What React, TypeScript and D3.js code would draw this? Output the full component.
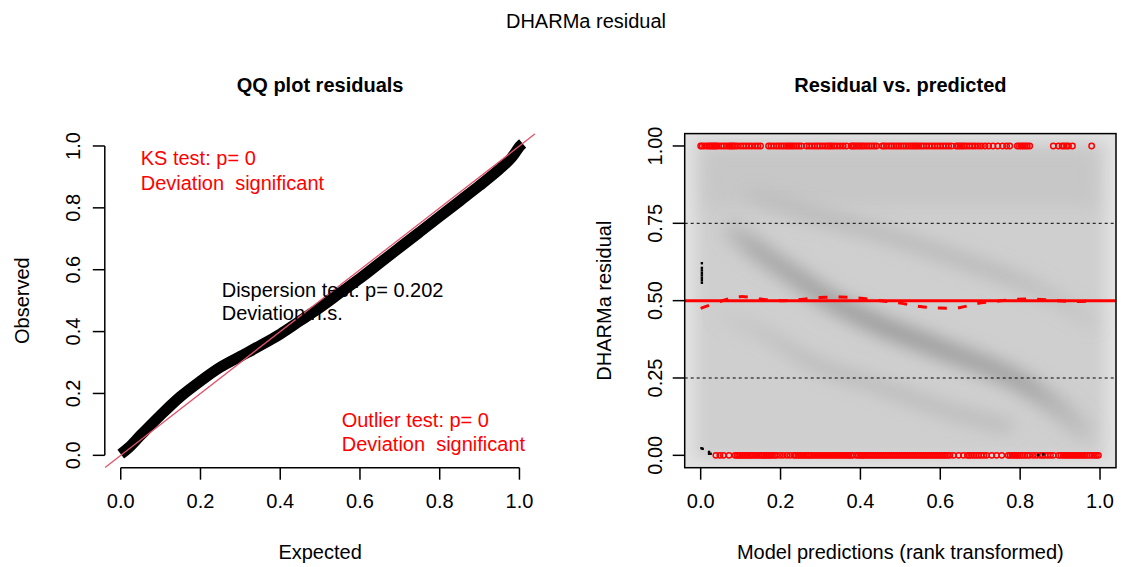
import React from 'react'
import * as d3 from 'd3'

// DHARMa residual diagnostics: QQ plot (left) and residual vs. predicted (right)
const W = 1121
const H = 567

// QQ plot: centre line of the (very dense) point cloud
const qqExpected = [0.0, 0.02, 0.05, 0.1, 0.15, 0.2, 0.25, 0.3, 0.35, 0.4, 0.45, 0.5, 0.55, 0.6, 0.65, 0.7, 0.75, 0.8, 0.85, 0.9, 0.95, 0.98, 1.0, 1.008]
const qqObserved = [0.004, 0.025, 0.065, 0.13, 0.19, 0.24, 0.285, 0.32, 0.355, 0.392, 0.435, 0.478, 0.525, 0.572, 0.622, 0.672, 0.722, 0.772, 0.822, 0.872, 0.925, 0.962, 0.998, 1.008]
const qqTicks = [0, 0.2, 0.4, 0.6, 0.8, 1]
const qqTickLabels = ['0.0', '0.2', '0.4', '0.6', '0.8', '1.0']

const resTicksX = [0, 0.2, 0.4, 0.6, 0.8, 1]
const resTickLabelsX = ['0.0', '0.2', '0.4', '0.6', '0.8', '1.0']
const resTicksY = [0, 0.25, 0.5, 0.75, 1]
const resTickLabelsY = ['0.00', '0.25', '0.50', '0.75', '1.00']
const quantileRefs = [0.25, 0.75]

// fitted median quantile curve (dashed red)
const medianX = [0.0, 0.06, 0.1, 0.15, 0.2, 0.25, 0.3, 0.35, 0.4, 0.45, 0.5, 0.55, 0.6, 0.65, 0.69, 0.74, 0.79, 0.84, 0.89, 0.94, 0.99]
const medianY = [0.475, 0.502, 0.513, 0.505, 0.5, 0.504, 0.51, 0.512, 0.508, 0.5, 0.492, 0.481, 0.476, 0.478, 0.49, 0.498, 0.504, 0.505, 0.5, 0.497, 0.5]

// residual = 1 outliers, by predicted rank
const outlierTop = [
  0.0, 0.004, 0.01, 0.016, 0.021, 0.025, 0.029, 0.033, 0.036, 0.04, 0.045, 0.052, 0.058, 0.064, 0.07, 0.074, 0.078, 0.082, 0.086, 0.092, 0.1, 0.107, 0.114, 0.121, 0.128, 0.136, 0.143, 0.15,
  0.17, 0.176, 0.183, 0.19, 0.196, 0.202, 0.208, 0.214, 0.219, 0.224, 0.229, 0.234, 0.24, 0.246, 0.252,
  0.265, 0.272, 0.279, 0.286, 0.292, 0.298, 0.305, 0.312, 0.318, 0.323, 0.328, 0.334, 0.341, 0.349, 0.357, 0.365,
  0.377, 0.381, 0.385, 0.39, 0.395, 0.4, 0.405, 0.41, 0.416, 0.422, 0.428, 0.434, 0.44,
  0.455, 0.459, 0.465, 0.472, 0.478, 0.484, 0.49, 0.496, 0.502, 0.508, 0.514, 0.52, 0.526, 0.531, 0.536, 0.541, 0.546, 0.552, 0.558, 0.565, 0.572, 0.579, 0.586, 0.593, 0.6, 0.607, 0.614, 0.621, 0.628,
  0.64, 0.645, 0.65, 0.655, 0.66, 0.666, 0.673, 0.68, 0.687, 0.695, 0.703, 0.712, 0.721, 0.732, 0.744, 0.756, 0.766, 0.774,
  0.793, 0.798, 0.803, 0.808, 0.813, 0.818, 0.824,
  0.883, 0.896, 0.905, 0.91, 0.916, 0.921, 0.931, 0.979,
]

// residual = 0 outliers, by predicted rank
const outlierBottom = [
  0.038, 0.048, 0.057, 0.071,
  0.086, 0.091, 0.095, 0.099, 0.103, 0.107, 0.111, 0.115, 0.119, 0.123, 0.127, 0.131, 0.136, 0.141, 0.146, 0.151, 0.155, 0.159, 0.163, 0.167, 0.171, 0.175, 0.18, 0.185, 0.19,
  0.199, 0.207, 0.216, 0.224,
  0.233, 0.238, 0.243, 0.248, 0.253, 0.258, 0.263, 0.268, 0.272, 0.276, 0.281, 0.286, 0.291, 0.296, 0.301, 0.306, 0.311, 0.316, 0.321, 0.326, 0.331, 0.336, 0.341, 0.346, 0.351, 0.356, 0.361, 0.366, 0.371, 0.376, 0.381,
  0.39, 0.395, 0.4, 0.404, 0.408, 0.413, 0.418, 0.423, 0.428, 0.433, 0.438, 0.443, 0.448, 0.453, 0.458, 0.463, 0.468, 0.473, 0.478, 0.483, 0.488, 0.493, 0.498, 0.503, 0.508, 0.513, 0.518, 0.523, 0.528, 0.533, 0.538, 0.543, 0.548, 0.553, 0.558, 0.563, 0.568, 0.573, 0.578, 0.583, 0.588, 0.593, 0.598, 0.603, 0.608, 0.613, 0.618, 0.624,
  0.633, 0.646, 0.658,
  0.668, 0.673, 0.678, 0.684, 0.69, 0.696, 0.702, 0.709, 0.716,
  0.729, 0.741, 0.754,
  0.77, 0.775, 0.78, 0.785, 0.79, 0.795, 0.8, 0.806, 0.812, 0.818, 0.824,
  0.833, 0.841, 0.85, 0.856, 0.862, 0.869, 0.876, 0.883,
  0.896, 0.902, 0.908, 0.913, 0.918, 0.923, 0.928, 0.933, 0.938, 0.943, 0.948, 0.953, 0.958, 0.963, 0.968, 0.974, 0.98, 0.986, 0.991, 0.996,
]

// sparse points drawn by smoothScatter on top of the density
const sparseX = [0.003, 0.003, 0.003, 0.003, 0.003, 0.003, 0.003, 0.003, 0.002, 0.005, 0.021, 0.021, 0.025, 0.845, 0.858]
const sparseY = [0.621, 0.606, 0.598, 0.59, 0.582, 0.574, 0.566, 0.558, 0.023, 0.021, 0.011, 0.005, 0.005, 0.001, 0.003]

// density ridges of the smoothed scatter (centre lines)
const ridgeMainX = [0.06, 0.14, 0.24, 0.34, 0.45, 0.6, 0.783, 0.9, 0.975]
const ridgeMainY = [0.74, 0.664, 0.575, 0.49, 0.42, 0.345, 0.25, 0.15, 0.06]
const ridgeUpperX = [0.12, 0.265, 0.449, 0.7, 0.866, 0.99]
const ridgeUpperY = [0.84, 0.782, 0.718, 0.61, 0.524, 0.42]
const ridgeLowerX = [0.04, 0.157, 0.282, 0.449, 0.616, 0.78]
const ridgeLowerY = [0.46, 0.394, 0.297, 0.222, 0.146, 0.09]

const FONT = '"Liberation Sans", Arial, Helvetica, sans-serif'
const RED = '#FF0000'

export default function App() {
  const yS = d3.scaleLinear().domain([-0.04, 1.04]).range([467.7, 133.6])
  const xL = d3.scaleLinear().domain([-0.04, 1.04]).range([104.8, 535.4])
  const xR = d3.scaleLinear().domain([-0.04, 1.04]).range([684.7, 1116])

  const [rx0, rx1] = xR.range()
  const [ry0, ry1] = [yS.range()[1], yS.range()[0]]

  const qqPts = qqExpected.map((e, i) => [e, qqObserved[i]] as [number, number])
  const qqPath = d3.line<[number, number]>().x((d) => xL(d[0])).y((d) => yS(d[1])).curve(d3.curveCatmullRom)(qqPts)

  const medPts = medianX.map((x, i) => [x, medianY[i]] as [number, number])
  const medPath = d3.line<[number, number]>().x((d) => xR(d[0])).y((d) => yS(d[1])).curve(d3.curveCatmullRom)(medPts)

  const ridge = (xs: number[], ys: number[]) =>
    d3.line<number>().x((x) => xR(x)).y((_, i) => yS(ys[i])).curve(d3.curveCatmullRom)(xs)

  const axisStroke = { stroke: '#000', strokeWidth: 1.5 }

  return (
    <svg width={W} height={H} style={{ position: 'absolute', left: 0, top: 0, background: '#fff' }} fontFamily={FONT}>
      <defs>
        <clipPath id="resClip">
          <rect x={rx0} y={ry0} width={rx1 - rx0} height={ry1 - ry0} />
        </clipPath>
        <clipPath id="qqClip">
          <rect x={xL.range()[0]} y={ry0} width={xL.range()[1] - xL.range()[0]} height={ry1 - ry0} />
        </clipPath>
        <filter id="blurEdge" filterUnits="userSpaceOnUse" x={rx0 - 40} y={ry0 - 40} width={rx1 - rx0 + 80} height={ry1 - ry0 + 80}>
          <feGaussianBlur stdDeviation={7} />
        </filter>
        <filter id="blurBand" filterUnits="userSpaceOnUse" x={rx0 - 40} y={ry0 - 40} width={rx1 - rx0 + 80} height={ry1 - ry0 + 80}>
          <feGaussianBlur stdDeviation={8.5} />
        </filter>
        <linearGradient id="gMain" gradientUnits="userSpaceOnUse" x1={xR(0.04)} y1={0} x2={xR(1)} y2={0}>
          <stop offset="0" stopColor="#969696" stopOpacity={0.15} />
          <stop offset="0.1" stopColor="#969696" stopOpacity={0.7} />
          <stop offset="0.45" stopColor="#969696" stopOpacity={0.95} />
          <stop offset="0.8" stopColor="#969696" stopOpacity={0.8} />
          <stop offset="1" stopColor="#969696" stopOpacity={0.15} />
        </linearGradient>
        <linearGradient id="gSide" gradientUnits="userSpaceOnUse" x1={xR(0.04)} y1={0} x2={xR(1)} y2={0}>
          <stop offset="0" stopColor="#a4a4a4" stopOpacity={0.1} />
          <stop offset="0.25" stopColor="#a4a4a4" stopOpacity={0.55} />
          <stop offset="0.75" stopColor="#a4a4a4" stopOpacity={0.55} />
          <stop offset="1" stopColor="#a4a4a4" stopOpacity={0.15} />
        </linearGradient>
      </defs>

      {/* outer title */}
      <text x={586} y={28} textAnchor="middle" fontSize={20}>DHARMa residual</text>

      {/* ---------- QQ plot ---------- */}
      <text x={(xL(0) + xL(1)) / 2} y={92} textAnchor="middle" fontSize={20} fontWeight="bold">QQ plot residuals</text>
      <g clipPath="url(#qqClip)">
        {qqPath && <path d={qqPath} fill="none" stroke="#000" strokeWidth={11} />}
        <line x1={xL(-0.04)} y1={yS(-0.04)} x2={xL(1.04)} y2={yS(1.04)} stroke="#DF536B" strokeWidth={1.3} />
      </g>
      <line x1={xL(0)} x2={xL(1)} y1={ry1} y2={ry1} {...axisStroke} />
      {qqTicks.map((t, i) => (
        <g key={'qx' + i}>
          <line x1={xL(t)} x2={xL(t)} y1={ry1} y2={ry1 + 12} {...axisStroke} />
          <text x={xL(t)} y={508} textAnchor="middle" fontSize={20}>{qqTickLabels[i]}</text>
        </g>
      ))}
      <line x1={xL.range()[0]} x2={xL.range()[0]} y1={yS(0)} y2={yS(1)} {...axisStroke} />
      {qqTicks.map((t, i) => (
        <g key={'qy' + i}>
          <line x1={xL.range()[0] - 12} x2={xL.range()[0]} y1={yS(t)} y2={yS(t)} {...axisStroke} />
          <text transform={`translate(${xL.range()[0] - 25},${yS(t)}) rotate(-90)`} textAnchor="middle" fontSize={20}>{qqTickLabels[i]}</text>
        </g>
      ))}
      <text x={(xL(0) + xL(1)) / 2} y={559} textAnchor="middle" fontSize={20}>Expected</text>
      <text transform={`translate(28.5,${yS(0.5)}) rotate(-90)`} textAnchor="middle" fontSize={20}>Observed</text>

      <g fontSize={20}>
        <text x={140.7} y={165} fill={RED}>KS test: p= 0</text>
        <text x={140.7} y={190} fill={RED} style={{ whiteSpace: 'pre' }}>{'Deviation  significant'}</text>
        <text x={221.7} y={297} fill="#000">Dispersion test: p= 0.202</text>
        <text x={221.7} y={320} fill="#000">Deviation n.s.</text>
        <text x={341.7} y={427} fill={RED}>Outlier test: p= 0</text>
        <text x={341.7} y={451} fill={RED} style={{ whiteSpace: 'pre' }}>{'Deviation  significant'}</text>
      </g>

      {/* ---------- Residual vs predicted ---------- */}
      <text x={(xR(0) + xR(1)) / 2} y={92} textAnchor="middle" fontSize={20} fontWeight="bold">Residual vs. predicted</text>
      <g clipPath="url(#resClip)">
        <rect x={rx0} y={ry0} width={rx1 - rx0} height={ry1 - ry0} fill="#e2e2e2" />
        <rect x={rx0 + 11} y={ry0 + 9} width={rx1 - rx0 - 22} height={ry1 - ry0 - 18} fill="#cfcfcf" filter="url(#blurEdge)" />
        <rect x={rx0 + 20} y={yS(0.99)} width={rx1 - rx0 - 40} height={yS(0.8) - yS(0.99)} fill="#bdbdbd" opacity={0.45} filter="url(#blurBand)" />
        <g filter="url(#blurBand)" fill="none">
          <path d={ridge(ridgeUpperX, ridgeUpperY) ?? ''} stroke="url(#gSide)" strokeWidth={14} />
          <path d={ridge(ridgeLowerX, ridgeLowerY) ?? ''} stroke="url(#gSide)" strokeWidth={12} />
          <path d={ridge(ridgeMainX, ridgeMainY) ?? ''} stroke="url(#gMain)" strokeWidth={19} />
        </g>
        {quantileRefs.map((q) => (
          <line key={q} x1={rx0} x2={rx1} y1={yS(q)} y2={yS(q)} stroke="#000" strokeWidth={1} strokeDasharray="3,3" />
        ))}
        <line x1={rx0} x2={rx1} y1={yS(0.5)} y2={yS(0.5)} stroke={RED} strokeWidth={3} />
        {medPath && <path d={medPath} fill="none" stroke={RED} strokeWidth={3} strokeDasharray="9,11" />}
        {outlierTop.map((x, i) => (
          <circle key={'t' + i} cx={xR(x)} cy={yS(1)} r={2.7} fill="none" stroke={RED} strokeWidth={1.5} />
        ))}
        {outlierBottom.map((x, i) => (
          <circle key={'b' + i} cx={xR(x)} cy={yS(0)} r={2.7} fill="none" stroke={RED} strokeWidth={1.5} />
        ))}
        {sparseX.map((x, i) => (
          <rect key={'s' + i} x={xR(x) - 1.2} y={yS(sparseY[i]) - 1.2} width={2.4} height={2.4} fill="#000" />
        ))}
      </g>
      <rect x={rx0} y={ry0} width={rx1 - rx0} height={ry1 - ry0} fill="none" {...axisStroke} />
      {resTicksX.map((t, i) => (
        <g key={'rx' + i}>
          <line x1={xR(t)} x2={xR(t)} y1={ry1} y2={ry1 + 12} {...axisStroke} />
          <text x={xR(t)} y={508} textAnchor="middle" fontSize={20}>{resTickLabelsX[i]}</text>
        </g>
      ))}
      {resTicksY.map((t, i) => (
        <g key={'ry' + i}>
          <line x1={rx0 - 12} x2={rx0} y1={yS(t)} y2={yS(t)} {...axisStroke} />
          <text transform={`translate(${rx0 - 23},${yS(t)}) rotate(-90)`} textAnchor="middle" fontSize={20}>{resTickLabelsY[i]}</text>
        </g>
      ))}
      <text x={(xR(0) + xR(1)) / 2} y={559} textAnchor="middle" fontSize={20}>Model predictions (rank transformed)</text>
      <text transform={`translate(610.5,${yS(0.5)}) rotate(-90)`} textAnchor="middle" fontSize={20}>DHARMa residual</text>
    </svg>
  )
}
